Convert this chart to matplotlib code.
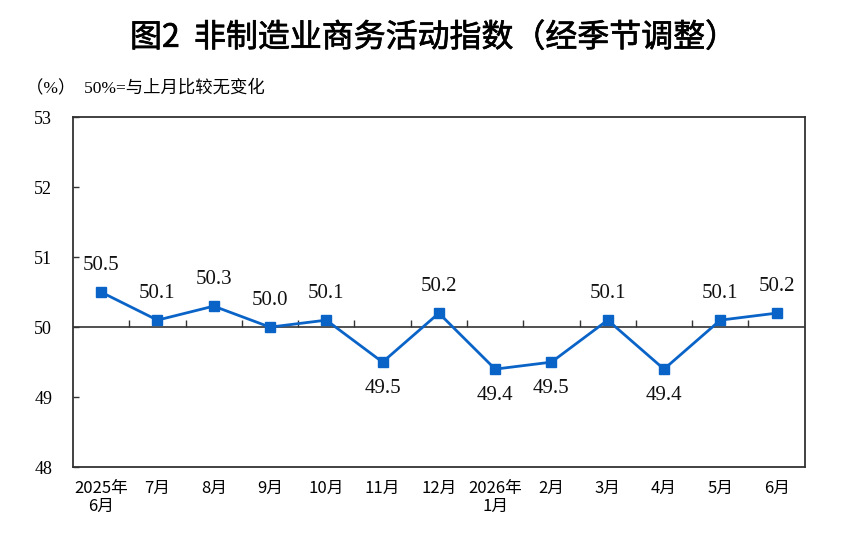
import numpy as np
import matplotlib
matplotlib.use("Agg")
import matplotlib.pyplot as plt
import matplotlib.patheffects as pe

months = ["2025年\n6月", "7月", "8月", "9月", "10月", "11月", "12月",
          "2026年\n1月", "2月", "3月", "4月", "5月", "6月"]
values = [50.5, 50.1, 50.3, 50.0, 50.1, 49.5, 50.2, 49.4, 49.5, 50.1, 49.4, 50.1, 50.2]
label_below = [False, False, False, False, False, True, False, True, True, False, True, False, False]
yticks = [48, 49, 50, 51, 52, 53]

BLUE = "#0a64c8"
SERIF = ["Liberation Serif", "Noto Sans CJK SC"]
SANS = ["Noto Sans CJK SC", "DejaVu Sans"]

fig = plt.figure(figsize=(8.68, 5.4), dpi=100)
ax = fig.add_axes([0.0841, 0.135, 0.843, 0.648])

x = np.arange(len(values))
ax.axhline(50, color="#333333", lw=1.2, zorder=1)
# small upward ticks on the 50 line between months
ax.plot(x[:-1] + 0.5, [50] * (len(x) - 1), linestyle="none", marker=2,
        markersize=5, markeredgewidth=1.0, color="#333333", zorder=1)
ax.plot(x, values, color=BLUE, lw=2.0, marker="s", markersize=6.5, zorder=3)

for xi, v, below in zip(x, values, label_below):
    off = -19 if below else 19
    ax.annotate(f"{v:.1f}", (xi, v), xytext=(0, off), textcoords="offset points",
                ha="center", va="center", fontsize=15, family=SERIF, color="#111111")

ax.set_xlim(-0.5, len(values) - 0.5)
ax.set_ylim(48, 53)
ax.set_yticks(yticks)
ax.set_yticklabels([str(t) for t in yticks], family=SERIF, fontsize=13)
ax.set_xticks(x)
ax.set_xticklabels(months, family=SANS, fontsize=12, linespacing=1.1)
ax.tick_params(axis="x", length=0, pad=9)
ax.tick_params(axis="y", direction="in", length=4, width=1.0, color="#333333", pad=15)
for s in ax.spines.values():
    s.set_color("#333333")
    s.set_linewidth(1.3)

fig.text(0.5, 0.93, "图2  非制造业商务活动指数（经季节调整）", ha="center", va="center",
         fontsize=23, family=SANS,
         path_effects=[pe.withStroke(linewidth=0.5, foreground="black")])
fig.text(0.03, 0.838, "（%）  50%=与上月比较无变化", ha="left", va="center",
         fontsize=12.5, family=SERIF)

fig.savefig("out.png", dpi=100)
